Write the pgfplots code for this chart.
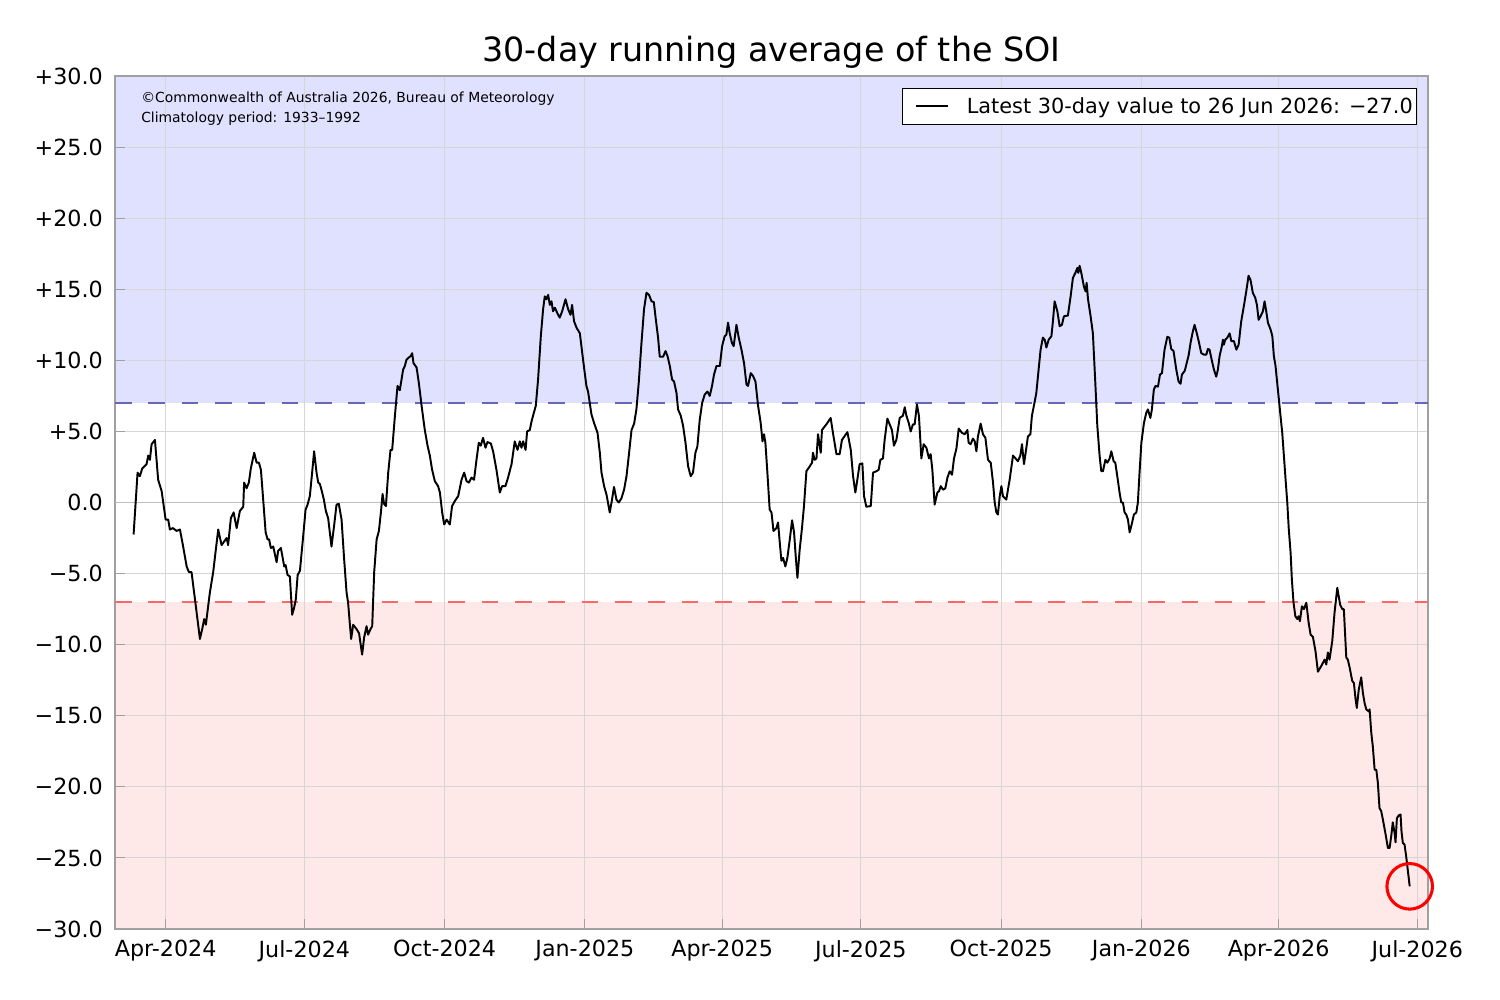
\documentclass[border=0pt]{standalone}
\usepackage{fontspec}
\setmainfont{DejaVu Sans}
\usepackage{pgfplots}
\pgfplotsset{compat=1.18}
\definecolor{bluefill}{RGB}{224,224,255}
\definecolor{pinkfill}{RGB}{255,232,232}
\definecolor{bluedash}{RGB}{102,102,187}
\definecolor{reddash}{RGB}{255,102,102}
\definecolor{gridc}{RGB}{214,214,214}
\definecolor{spine}{RGB}{160,160,160}
\definecolor{zeroc}{RGB}{190,190,190}
\begin{document}
\begin{tikzpicture}
\begin{axis}[
  set layers,
  at={(0pt,0pt)}, anchor=south west,
  scale only axis, width=945.36pt, height=614.16pt,
  xmin=57.8, xmax=919, ymin=-30, ymax=30,
  xtick={91,182,274,366,456,547,639,731,821,912},
  xticklabels={Apr-2024,Jul-2024,Oct-2024,Jan-2025,Apr-2025,Jul-2025,Oct-2025,Jan-2026,Apr-2026,Jul-2026},
  ytick={-30,-25,-20,-15,-10,-5,0,5,10,15,20,25,30},
  yticklabels={−30.0,−25.0,−20.0,−15.0,−10.0,−5.0,0.0,+5.0,+10.0,+15.0,+20.0,+25.0,+30.0},
  xtick pos=bottom, ytick pos=left,
  tick align=inside,
  major tick length=7pt,
  tick style={spine, line width=0.8pt},
  axis line style={spine, line width=0.8pt},
  grid=major, grid style={gridc, line width=0.8pt},
  tick label style={font=\fontsize{16}{19}\selectfont},
  yticklabel style={anchor=east, inner sep=0pt, xshift=-8.6pt},
  xticklabel style={anchor=north, inner sep=0pt, yshift=-8pt},
  title={30-day running average of the SOI},
  title style={at={(0.5,1)}, anchor=base, yshift=4.4pt, inner sep=0pt, font=\fontsize{24}{29}\selectfont},
  clip=false,
  legend style={at={(1,1)}, anchor=north east, xshift=-7.9pt, yshift=-8.64pt,
    draw=black, fill=white, font=\fontsize{15}{18}\selectfont,
    inner xsep=0.8pt, inner ysep=4.5pt,
    /tikz/every odd column/.append style={column sep=10.8pt}},
  legend image code/.code={\path (0pt,0pt); \pgfsetlinewidth{1.5pt}\draw[black] (8.6pt,0pt) -- (31.6pt,0pt);},
]
\addplot[on layer=axis background, draw=none, fill=bluefill, forget plot] coordinates {(57.8,7) (919,7) (919,30) (57.8,30)};
\addplot[on layer=axis background, draw=none, fill=pinkfill, forget plot] coordinates {(57.8,-30) (919,-30) (919,-7) (57.8,-7)};
\addplot[zeroc, line width=1.4pt, forget plot] coordinates {(57.8,0) (919,0)};
\addplot[bluedash, line width=1.1pt, dash pattern=on 12pt off 12pt, forget plot] coordinates {(57.8,7) (919,7)};
\addplot[reddash, line width=1.1pt, dash pattern=on 12pt off 12pt, forget plot] coordinates {(57.8,-7) (919,-7)};
\addplot[black, line width=1.4pt, line join=round] table {
x y
70.0 -2.25
72.6 2.1
74.1 1.85
75.7 2.4
78.5 2.7
79.6 3.3
80.7 3.0
81.8 4.1
84.0 4.4
86.1 1.6
88.4 0.8
91.0 -1.2
92.7 -1.2
93.8 -1.9
95.8 -1.8
98.2 -2.0
100.4 -1.9
102.5 -3.1
104.8 -4.5
106.3 -4.9
108.0 -4.9
111.3 -7.7
113.5 -9.6
115.0 -8.9
116.3 -8.2
117.4 -8.6
120.0 -6.35
122.2 -4.9
125.5 -1.9
127.7 -3.0
131.0 -2.5
132.0 -3.0
133.8 -1.1
135.6 -0.7
137.6 -1.8
139.7 -0.6
141.9 -0.3
142.5 1.4
144.1 1.0
145.6 1.4
146.9 2.4
149.1 3.5
150.7 2.8
152.2 2.8
153.5 2.3
155.0 0.2
156.6 -2.1
157.9 -2.6
158.9 -2.6
160.0 -3.2
161.6 -3.1
163.8 -4.2
164.8 -3.4
166.6 -3.2
168.8 -4.5
169.7 -4.4
171.0 -5.1
172.5 -5.2
174.0 -7.9
175.3 -7.4
176.4 -6.8
177.6 -5.1
179.1 -4.8
181.2 -2.4
182.8 -0.5
184.1 -0.15
185.6 0.45
187.1 2.1
188.4 3.6
190.0 2.1
191.1 1.4
192.2 1.3
193.7 0.7
194.8 0.2
196.1 -0.6
197.6 -1.1
199.8 -3.1
201.6 -1.55
203.1 -0.15
204.6 -0.1
206.4 -1.2
208.1 -4.0
209.7 -6.35
210.7 -7.05
211.8 -8.5
212.7 -9.6
214.0 -8.6
216.2 -8.9
217.9 -9.2
219.9 -10.7
221.2 -9.5
222.8 -8.7
223.8 -9.3
225.4 -8.9
226.5 -8.7
227.8 -4.9
229.4 -2.6
230.9 -2.0
232.2 -0.7
233.3 0.6
234.3 -0.1
235.5 -0.25
237.0 2.1
238.5 3.7
239.6 3.7
241.4 6.1
243.1 8.2
244.6 7.9
246.8 9.35
247.9 9.6
249.0 10.05
250.5 10.2
251.8 10.3
252.7 10.5
253.6 9.8
255.6 9.5
257.1 8.4
258.9 6.8
261.0 5.1
262.8 4.0
264.3 3.3
265.8 2.3
267.6 1.5
269.7 1.15
270.9 0.7
272.4 -0.7
273.7 -1.55
275.3 -1.2
277.4 -1.55
278.9 -0.25
280.7 0.1
282.9 0.45
285.1 1.6
286.8 2.1
288.4 1.5
289.9 1.4
291.6 1.75
293.3 1.6
294.9 3.0
296.4 4.2
297.7 4.0
299.2 4.55
300.8 3.85
302.1 4.25
304.3 4.15
305.8 3.6
308.0 2.3
310.2 0.7
311.7 1.15
313.9 1.15
315.6 1.75
317.9 2.7
320.0 4.3
321.8 3.7
323.3 4.3
324.4 3.85
325.5 4.3
327.1 3.7
328.1 5.0
329.9 5.1
331.0 5.7
332.5 6.3
333.8 6.8
335.3 8.65
337.1 11.7
338.6 13.6
339.7 14.5
340.8 14.3
341.9 14.6
343.0 13.9
344.1 14.15
345.1 13.45
346.3 13.7
348.0 13.3
349.5 13.0
351.1 13.45
353.3 14.3
355.0 13.6
356.6 13.2
357.6 13.9
358.9 12.75
360.5 12.3
362.7 11.9
364.8 10.05
367.0 8.2
368.1 7.8
370.3 6.2
372.0 5.6
374.3 4.9
375.8 3.5
376.9 2.1
378.6 1.15
380.2 0.55
382.3 -0.7
383.8 0.2
385.1 1.1
386.7 0.2
388.2 0.0
390.0 0.3
391.7 0.9
393.3 1.85
394.8 3.3
396.6 5.1
398.3 5.55
399.8 6.55
401.3 8.4
403.1 11.2
404.8 13.6
406.4 14.75
408.1 14.6
409.7 14.15
411.2 14.1
412.5 12.9
414.0 11.6
415.1 10.25
417.3 10.25
418.9 10.65
420.2 10.3
421.7 9.6
423.2 8.65
424.5 8.5
426.1 7.7
427.1 6.55
428.9 6.1
430.4 5.4
432.0 4.2
433.7 2.55
435.4 1.85
436.9 2.1
438.5 3.5
439.8 3.95
441.3 5.8
442.9 7.0
444.6 7.6
446.4 7.8
447.9 7.5
449.4 8.2
450.7 9.0
452.3 9.6
454.5 9.6
456.0 11.0
457.7 11.7
458.8 11.8
459.9 12.65
461.0 11.9
462.5 11.2
463.6 11.0
465.4 12.5
466.9 11.6
468.7 10.75
470.4 9.8
472.0 8.3
473.0 8.2
474.8 9.1
476.3 8.9
477.9 8.5
479.6 6.8
481.3 5.6
482.5 4.3
483.5 4.8
484.4 4.2
485.7 2.1
487.2 -0.5
488.4 -0.7
489.7 -2.0
491.6 -1.8
492.7 -1.4
493.8 -2.8
494.9 -4.1
496.0 -3.9
497.5 -4.5
498.8 -3.9
500.4 -2.6
501.9 -1.25
503.2 -2.1
504.3 -3.8
505.4 -5.3
506.9 -3.3
508.4 -1.8
509.7 -0.25
511.3 2.2
513.5 2.55
515.0 2.8
515.6 3.5
516.7 3.0
517.9 3.1
518.9 4.8
520.7 3.5
521.5 5.1
524.4 5.5
527.2 5.95
528.7 4.9
531.0 3.4
533.1 3.4
534.6 4.4
538.2 4.95
540.4 3.7
541.9 1.85
543.4 0.7
544.7 1.6
546.2 2.7
548.0 2.75
549.1 0.45
550.6 -0.3
553.5 -0.25
555.0 2.1
557.2 2.2
558.7 2.3
559.8 3.0
561.5 3.1
562.6 4.4
564.4 5.9
565.9 5.5
567.4 5.1
568.7 4.0
570.3 4.4
572.5 5.95
574.6 6.1
575.8 6.7
576.9 6.1
578.4 5.6
579.7 5.0
581.2 5.5
582.3 5.5
583.8 6.9
585.1 6.1
586.7 3.1
588.2 4.1
590.0 3.85
591.7 3.1
592.8 3.4
593.9 2.3
595.4 -0.15
597.2 0.7
598.3 0.8
599.4 1.15
600.9 0.9
602.4 1.0
603.8 1.75
605.3 2.2
606.8 1.95
608.1 3.1
609.7 3.8
611.2 5.2
613.3 4.9
615.1 4.8
616.9 5.1
617.7 4.2
619.0 4.1
620.5 4.5
621.7 4.3
622.8 3.6
623.8 4.65
625.6 5.55
627.1 4.8
628.7 4.55
630.4 3.0
632.2 2.8
633.7 1.4
634.8 0.0
635.9 -0.7
636.9 -0.85
638.1 0.45
639.2 1.15
640.2 0.45
642.4 0.2
644.6 1.6
646.8 3.3
648.5 3.1
650.0 2.9
651.6 3.3
652.7 4.1
654.0 2.7
655.1 3.5
656.6 4.65
658.2 4.8
659.2 6.1
660.5 6.8
662.1 7.7
663.6 9.35
664.9 10.75
666.4 11.6
667.6 11.45
668.7 10.9
670.2 11.45
672.0 11.7
673.0 12.75
674.1 14.15
675.9 13.45
677.4 12.4
678.9 12.5
680.2 13.1
682.8 13.15
684.6 14.5
686.1 15.8
687.7 16.15
689.0 16.5
689.6 16.15
690.5 16.65
691.6 16.15
693.3 15.2
694.4 14.85
695.1 15.45
696.0 14.3
697.7 13.1
699.2 11.9
700.8 8.4
702.1 5.4
703.6 3.3
704.7 2.2
705.8 2.2
707.4 3.0
708.7 2.8
710.2 3.1
711.3 3.6
712.8 2.9
713.9 2.8
715.2 1.85
716.7 0.7
717.8 0.0
718.9 0.0
720.0 -0.7
721.1 -0.85
722.2 -1.2
723.3 -2.1
724.4 -1.65
726.1 -0.85
727.7 -0.7
728.7 0.0
729.8 2.1
731.0 4.2
732.7 5.6
734.2 6.3
735.3 6.55
736.9 5.95
737.9 6.55
739.2 7.95
740.3 8.2
741.9 8.15
743.2 9.0
744.5 9.1
746.2 10.75
748.0 11.65
749.3 11.6
750.6 10.8
752.1 10.65
753.9 9.35
755.4 8.5
756.7 8.35
757.6 9.0
759.4 9.25
760.5 9.7
762.0 10.35
763.3 11.25
764.8 12.05
765.9 12.5
767.0 12.05
768.6 11.35
770.3 10.5
772.0 10.4
773.6 10.4
774.6 10.8
775.7 10.75
777.3 9.95
778.6 9.35
780.1 8.85
781.2 9.35
782.3 10.3
783.8 11.0
784.5 11.45
785.1 11.1
786.0 11.45
787.4 11.6
788.9 11.9
790.0 11.35
791.7 11.35
793.3 10.75
794.8 11.1
796.5 12.75
798.2 13.8
799.8 14.85
801.3 15.95
802.6 15.65
804.1 14.75
805.7 14.4
806.8 13.9
807.9 12.85
809.2 13.1
810.7 13.45
811.8 14.15
812.9 13.45
814.0 12.65
815.8 12.15
816.9 11.7
817.9 10.3
819.0 9.6
820.1 8.4
821.2 7.25
822.3 6.05
823.4 4.9
824.5 3.25
825.6 1.6
826.7 0.0
827.7 -1.9
828.9 -3.55
829.7 -5.4
830.8 -7.05
832.0 -8.0
833.3 -8.2
834.1 -8.0
835.0 -8.35
836.3 -7.3
837.6 -7.5
839.2 -7.05
840.7 -8.45
842.0 -9.3
843.5 -9.45
845.2 -10.45
846.8 -11.9
849.0 -11.5
851.2 -11.05
852.3 -11.4
853.3 -10.55
854.4 -11.05
856.2 -9.75
857.7 -7.75
859.5 -6.0
861.4 -7.2
862.8 -7.5
863.8 -7.5
865.4 -10.9
866.4 -11.05
867.6 -11.6
869.3 -12.55
870.4 -12.7
871.5 -13.85
872.3 -14.45
873.6 -13.15
875.2 -12.3
876.3 -13.4
877.4 -14.1
878.5 -14.55
880.2 -14.7
880.7 -14.55
881.8 -16.2
882.8 -17.15
884.0 -18.8
885.1 -18.8
886.1 -19.7
887.2 -21.5
888.3 -21.7
889.4 -22.3
891.2 -23.35
892.7 -24.3
893.8 -24.3
894.9 -23.45
895.9 -22.5
897.1 -23.25
897.7 -23.9
898.6 -22.2
899.9 -22.0
901.0 -21.95
901.6 -23.1
902.5 -23.95
903.6 -24.05
904.7 -24.9
907.0 -27.0
};
\addlegendentry{Latest 30-day value to 26 Jun 2026: −27.0}
\addplot[only marks, mark=o, mark size=16.4pt, red, mark options={line width=2.2pt}, forget plot] coordinates {(907,-27.0)};
\node[anchor=west, inner sep=0pt, font=\fontsize{10}{12}\selectfont, xshift=18.7pt, yshift=-16.6pt] at (rel axis cs:0,1) {©Commonwealth of Australia 2026, Bureau of Meteorology};
\node[anchor=west, inner sep=0pt, font=\fontsize{10}{12}\selectfont, xshift=18.7pt, yshift=-31pt] at (rel axis cs:0,1) {Climatology period: 1933–1992};
\end{axis}
\pgfresetboundingbox
\path (-82.8pt,-51.12pt) rectangle (997.2pt,668.88pt);
\end{tikzpicture}
\end{document}
